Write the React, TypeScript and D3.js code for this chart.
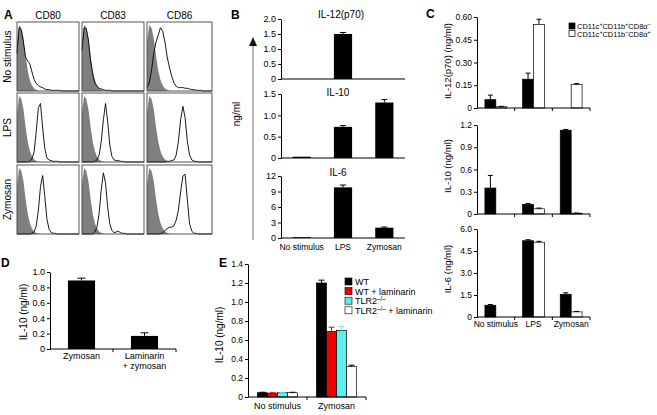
import React, { useRef, useEffect } from "react";
import * as d3 from "d3";

const FONT = "'Liberation Sans', Arial, Helvetica, sans-serif";

// ---- A: flow histograms, 30 bins each, fraction of max count
const markers = ["CD80", "CD83", "CD86"];
const stimuli = ["No stimulus", "LPS", "Zymosan"];
const isotype = [0.72, 0.97, 0.93, 0.78, 0.52, 0.3, 0.16, 0.08, 0.035, 0.015, 0.005, 0, 0, 0, 0, 0, 0, 0, 0, 0, 0, 0, 0, 0, 0, 0, 0, 0, 0, 0];
const noStimCD80 = [0.55, 0.93, 0.9, 0.72, 0.5, 0.44, 0.4, 0.28, 0.17, 0.11, 0.08, 0.06, 0.05, 0.03, 0.02, 0.02, 0.01, 0.01, 0.01, 0.01, 0.01, 0, 0, 0, 0, 0, 0, 0, 0, 0];
const noStimCD83 = [0.6, 0.93, 0.92, 0.75, 0.45, 0.25, 0.12, 0.07, 0.04, 0.03, 0.02, 0.01, 0.01, 0.01, 0, 0, 0, 0, 0, 0, 0, 0, 0, 0, 0, 0, 0, 0, 0, 0];
const noStimCD86 = [0.05, 0.12, 0.3, 0.55, 0.72, 0.82, 0.93, 0.88, 0.72, 0.5, 0.35, 0.22, 0.12, 0.07, 0.05, 0.05, 0.05, 0.04, 0.04, 0.03, 0.02, 0.02, 0.01, 0.01, 0.01, 0, 0, 0, 0, 0];
const lpsCD80 = [0, 0, 0, 0, 0, 0, 0.01, 0.05, 0.15, 0.45, 0.8, 0.86, 0.5, 0.2, 0.06, 0.03, 0.02, 0.01, 0.01, 0.01, 0, 0, 0, 0, 0, 0, 0, 0, 0, 0];
const lpsCD83 = [0, 0, 0, 0, 0, 0, 0.01, 0.03, 0.1, 0.3, 0.62, 0.86, 0.6, 0.25, 0.08, 0.03, 0.02, 0.02, 0.01, 0.01, 0, 0, 0, 0, 0, 0, 0, 0, 0, 0];
const lpsCD86 = [0, 0, 0, 0, 0, 0, 0, 0, 0, 0.01, 0.01, 0.02, 0.03, 0.1, 0.3, 0.62, 0.82, 0.65, 0.3, 0.1, 0.03, 0.01, 0.01, 0, 0, 0, 0, 0, 0, 0];
const zymCD80 = [0, 0, 0, 0, 0, 0, 0, 0.01, 0.03, 0.12, 0.35, 0.7, 0.86, 0.55, 0.22, 0.07, 0.02, 0.01, 0.01, 0, 0, 0, 0, 0, 0, 0, 0, 0, 0, 0];
const zymCD83 = [0, 0, 0, 0, 0, 0, 0.03, 0.1, 0.3, 0.65, 0.9, 0.75, 0.4, 0.15, 0.05, 0.02, 0.03, 0.04, 0.02, 0.01, 0.01, 0, 0, 0, 0, 0, 0, 0, 0, 0];
const zymCD86 = [0, 0, 0, 0, 0, 0, 0, 0.02, 0.05, 0.08, 0.1, 0.1, 0.12, 0.2, 0.35, 0.62, 0.85, 0.88, 0.5, 0.15, 0.04, 0.01, 0.01, 0, 0, 0, 0, 0, 0, 0];
const histRows = [
  [noStimCD80, noStimCD83, noStimCD86],
  [lpsCD80, lpsCD83, lpsCD86],
  [zymCD80, zymCD83, zymCD86],
];

// ---- B: cytokines (ng/ml)
const cytoCats = ["No stimulus", "LPS", "Zymosan"];
const bIL12 = [0, 1.5, 0];
const bIL12Err = [0, 0.05, 0];
const bIL10 = [0.03, 0.73, 1.3];
const bIL10Err = [0, 0.03, 0.07];
const bIL6 = [0.15, 9.8, 2.0];
const bIL6Err = [0, 0.45, 0.12];

// ---- C: DC subsets
const cSeries = ["CD11c+CD11b+CD8a-", "CD11c+CD11b-CD8a+"];
const cIL12Pos = [0.055, 0.19, 0];
const cIL12PosErr = [0.03, 0.04, 0];
const cIL12Neg = [0.008, 0.55, 0.155];
const cIL12NegErr = [0.003, 0.035, 0.006];
const cIL10Pos = [0.35, 0.13, 1.13];
const cIL10PosErr = [0.17, 0.012, 0.01];
const cIL10Neg = [0, 0.07, 0.01];
const cIL10NegErr = [0, 0.01, 0.003];
const cIL6Pos = [0.8, 5.2, 1.55];
const cIL6PosErr = [0.05, 0.07, 0.1];
const cIL6Neg = [0, 5.1, 0.35];
const cIL6NegErr = [0, 0.06, 0.03];

// ---- D
const dCats = ["Zymosan", "Laminarin"];
const dIL10 = [0.89, 0.17];
const dIL10Err = [0.03, 0.04];

// ---- E
const eCats = ["No stimulus", "Zymosan"];
const eWT = [0.045, 1.2];
const eWTErr = [0.005, 0.03];
const eWTLam = [0.04, 0.69];
const eWTLamErr = [0.005, 0.045];
const eTLR2 = [0.045, 0.7];
const eTLR2Err = [0.005, 0.04];
const eTLR2Lam = [0.045, 0.32];
const eTLR2LamErr = [0.005, 0.015];

type Series = { vals: number[]; errs: number[]; fill: string; stroke: string; errColor: string };

function barChart(svg: any, o: any) {
  const x0 = d3.scaleBand<string>().domain(o.cats).range(o.x).paddingInner(o.pi).paddingOuter(o.po);
  const x1 = d3.scaleBand<number>().domain(d3.range(o.series.length)).range([0, x0.bandwidth()]);
  const y = d3.scaleLinear().domain([0, o.max]).range(o.y);
  const g = svg.append("g");

  o.series.forEach((s: Series, si: number) => {
    const items = s.vals.map((v, ci) => ({ v, e: s.errs[ci], c: o.cats[ci] })).filter((d) => d.v > 0);
    g.selectAll(null)
      .data(items)
      .join("rect")
      .attr("x", (d: any) => x0(d.c)! + x1(si)!)
      .attr("y", (d: any) => y(d.v))
      .attr("width", x1.bandwidth())
      .attr("height", (d: any) => y(0) - y(d.v))
      .attr("fill", s.fill)
      .attr("stroke", s.stroke)
      .attr("stroke-width", s.stroke === "none" ? 0 : 0.7);
    const errs = items.filter((d) => d.e > 0);
    const cx = (d: any) => x0(d.c)! + x1(si)! + x1.bandwidth() / 2;
    g.selectAll(null)
      .data(errs)
      .join("line")
      .attr("x1", cx)
      .attr("x2", cx)
      .attr("y1", (d: any) => y(d.v))
      .attr("y2", (d: any) => y(d.v + d.e))
      .attr("stroke", s.errColor)
      .attr("stroke-width", 1);
    g.selectAll(null)
      .data(errs)
      .join("line")
      .attr("x1", (d: any) => cx(d) - o.cap / 2)
      .attr("x2", (d: any) => cx(d) + o.cap / 2)
      .attr("y1", (d: any) => y(d.v + d.e))
      .attr("y2", (d: any) => y(d.v + d.e))
      .attr("stroke", s.errColor)
      .attr("stroke-width", 1);
  });

  const ax = d3
    .axisLeft(y)
    .tickValues(o.ticks)
    .tickSize(3)
    .tickSizeOuter(0)
    .tickPadding(2)
    .tickFormat((v: any) => (v === 0 ? "0" : (+v).toFixed(o.digits)));
  const a = g.append("g").attr("transform", `translate(${o.x[0]},0)`).call(ax);
  a.attr("font-family", FONT).attr("font-size", o.fs || 9);
  a.select(".domain").attr("stroke", "#000");
  a.selectAll("line").attr("stroke", "#000");
  a.selectAll("text").attr("fill", "#000");

  g.append("line")
    .attr("x1", o.x[0]).attr("x2", o.x[1])
    .attr("y1", o.y[0]).attr("y2", o.y[0])
    .attr("stroke", "#000");
  if (o.catTicks) {
    d3.range(1, o.cats.length + 1).forEach((i) => {
      const tx = o.x[0] + i * x0.step();
      g.append("line").attr("x1", tx).attr("x2", tx).attr("y1", o.y[0]).attr("y2", o.y[0] + 3).attr("stroke", "#000");
    });
  }
  return { x0, y, g };
}

function supText(parent: any, x: number, y: number, parts: [string, boolean][], fs: number, anchor = "start") {
  const t = parent.append("text").attr("x", x).attr("y", y).attr("font-size", fs).attr("text-anchor", anchor).attr("font-family", FONT);
  let up = false;
  parts.forEach(([s, sup]) => {
    const ts = t.append("tspan").text(s);
    if (sup && !up) { ts.attr("dy", -fs * 0.35).attr("font-size", fs * 0.7); up = true; }
    else if (sup) ts.attr("font-size", fs * 0.7);
    else if (up) { ts.attr("dy", fs * 0.35); up = false; }
  });
  return t;
}

function vLabel(svg: any, x: number, y: number, s: string, fs = 10) {
  svg.append("text")
    .attr("transform", `translate(${x},${y}) rotate(-90)`)
    .attr("text-anchor", "middle")
    .attr("font-size", fs)
    .text(s);
}

function panelLetter(svg: any, x: number, y: number, s: string) {
  svg.append("text").attr("x", x).attr("y", y).attr("font-size", 12).attr("font-weight", "bold").text(s);
}

function catLabels(g: any, x0: any, cats: string[], y: number, fs = 9) {
  g.selectAll(null)
    .data(cats)
    .join("text")
    .attr("x", (d: string) => x0(d) + x0.bandwidth() / 2)
    .attr("y", y)
    .attr("text-anchor", "middle")
    .attr("font-size", fs)
    .text((d: string) => d);
}

function App() {
  const svgRef = useRef<SVGSVGElement>(null);

  useEffect(() => {
    const svg = d3.select(svgRef.current);
    svg.selectAll("*").remove();
    svg.attr("font-family", FONT);

    // ---------- A
    panelLetter(svg, 4, 19, "A");
    const colX = [17, 82, 147];
    const colW = [62, 62, 65];
    const rowY = [22, 93, 165];
    const rowH = 69;
    markers.forEach((m, ci) => {
      svg.append("text").attr("x", colX[ci] + colW[ci] / 2).attr("y", 19).attr("text-anchor", "middle").attr("font-size", 10).text(m);
    });
    stimuli.forEach((s, ri) => vLabel(svg, 11, rowY[ri] + rowH / 2, s, 10));
    histRows.forEach((row, ri) => {
      row.forEach((hist, ci) => {
        const x = colX[ci], w = colW[ci], y0 = rowY[ri];
        const hx = d3.scaleLinear().domain([0, hist.length - 1]).range([x, x + w]);
        const hy = d3.scaleLinear().domain([0, 1]).range([y0 + rowH, y0 + 1]);
        const area = d3.area<number>().x((_, i) => hx(i)).y0(y0 + rowH).y1((d) => hy(d));
        const line = d3.line<number>().x((_, i) => hx(i)).y((d) => hy(d));
        svg.append("path").attr("d", area(isotype)).attr("fill", "#7f7f7f");
        svg.append("path").attr("d", line(hist)).attr("fill", "none").attr("stroke", "#000").attr("stroke-width", 0.9);
        svg.append("rect").attr("x", x).attr("y", y0).attr("width", w).attr("height", rowH)
          .attr("fill", "none").attr("stroke", "#444").attr("stroke-width", 0.9);
      });
    });

    // ---------- B
    panelLetter(svg, 231, 19, "B");
    const bBase = { cats: cytoCats, x: [281, 405], pi: 0.56, po: 0.28, catTicks: false, cap: 6 };
    const blk = (vals: number[], errs: number[]): Series => ({ vals, errs, fill: "#000", stroke: "none", errColor: "#000" });
    barChart(svg, { ...bBase, series: [blk(bIL12, bIL12Err)], y: [79, 19], max: 2.0, ticks: [0, 0.5, 1, 1.5, 2], digits: 1 });
    barChart(svg, { ...bBase, series: [blk(bIL10, bIL10Err)], y: [158, 94], max: 1.5, ticks: [0, 0.5, 1, 1.5], digits: 1 });
    const b3 = barChart(svg, { ...bBase, series: [blk(bIL6, bIL6Err)], y: [238, 176], max: 12, ticks: [0, 3, 6, 9, 12], digits: 0 });
    catLabels(b3.g, b3.x0, cytoCats, 250, 8.5);
    svg.append("text").attr("x", 341).attr("y", 18).attr("text-anchor", "middle").attr("font-size", 10).text("IL-12(p70)");
    svg.append("text").attr("x", 338).attr("y", 96).attr("text-anchor", "middle").attr("font-size", 10).text("IL-10");
    svg.append("text").attr("x", 338).attr("y", 176).attr("text-anchor", "middle").attr("font-size", 10).text("IL-6");
    svg.append("line").attr("x1", 253).attr("x2", 253).attr("y1", 240).attr("y2", 44).attr("stroke", "#888").attr("stroke-width", 1.2);
    svg.append("path").attr("d", "M253,37 L249,46 L257,46 Z").attr("fill", "#111");
    vLabel(svg, 240, 114, "ng/ml", 10);

    // ---------- C
    panelLetter(svg, 426, 18, "C");
    const cBase = { cats: cytoCats, x: [477, 590], pi: 0.42, po: 0.21, catTicks: true, cap: 5, fs: 8.5 };
    const cPair = (p: number[], pe: number[], n: number[], ne: number[]): Series[] => [
      { vals: p, errs: pe, fill: "#000", stroke: "#000", errColor: "#000" },
      { vals: n, errs: ne, fill: "#fff", stroke: "#000", errColor: "#000" },
    ];
    barChart(svg, { ...cBase, series: cPair(cIL12Pos, cIL12PosErr, cIL12Neg, cIL12NegErr), y: [108, 17], max: 0.6, ticks: [0, 0.15, 0.3, 0.45, 0.6], digits: 2 });
    barChart(svg, { ...cBase, series: cPair(cIL10Pos, cIL10PosErr, cIL10Neg, cIL10NegErr), y: [214, 125], max: 1.2, ticks: [0, 0.3, 0.6, 0.9, 1.2], digits: 1 });
    const c3 = barChart(svg, { ...cBase, series: cPair(cIL6Pos, cIL6PosErr, cIL6Neg, cIL6NegErr), y: [317, 229], max: 6, ticks: [0, 1.5, 3, 4.5, 6], digits: 1 });
    catLabels(c3.g, c3.x0, cytoCats, 327, 8.5);
    vLabel(svg, 451, 61, "IL-12(p70) (ng/ml)", 9.5);
    vLabel(svg, 451, 166, "IL-10 (ng/ml)", 9.5);
    vLabel(svg, 451, 269, "IL-6 (ng/ml)", 9.5);
    // legend
    const lg = svg.append("g");
    cSeries.forEach((s, i) => {
      const yy = 23 + i * 7.5;
      lg.append("rect").attr("x", 569).attr("y", yy).attr("width", 6).attr("height", 6)
        .attr("fill", i === 0 ? "#000" : "#fff").attr("stroke", "#000").attr("stroke-width", 0.7);
      const sgn = s.match(/[+-]/g) || [];
      supText(lg, 577, yy + 6, [
        ["CD11c", false], [sgn[0] === "+" ? "+" : "–", true],
        ["CD11b", false], [sgn[1] === "+" ? "+" : "–", true],
        ["CD8α", false], [sgn[2] === "+" ? "+" : "–", true],
      ], 7.5);
    });

    // ---------- D
    panelLetter(svg, 1, 267, "D");
    const dch = barChart(svg, {
      cats: dCats, x: [50, 176], pi: 0.57, po: 0.285, catTicks: true, cap: 8,
      series: [blk(dIL10, dIL10Err)], y: [349, 272], max: 1.0, ticks: [0, 0.2, 0.4, 0.6, 0.8, 1.0], digits: 1,
    });
    catLabels(dch.g, dch.x0, dCats, 359, 9);
    svg.append("text").attr("x", dch.x0("Laminarin")! + dch.x0.bandwidth() / 2).attr("y", 369)
      .attr("text-anchor", "middle").attr("font-size", 9).text("+ zymosan");
    vLabel(svg, 27, 312, "IL-10 (ng/ml)", 10);

    // ---------- E
    panelLetter(svg, 219, 267, "E");
    const eSeries: Series[] = [
      { vals: eWT, errs: eWTErr, fill: "#000", stroke: "#000", errColor: "#000" },
      { vals: eWTLam, errs: eWTLamErr, fill: "#f00000", stroke: "#000", errColor: "#f00000" },
      { vals: eTLR2, errs: eTLR2Err, fill: "#5cf0ec", stroke: "#000", errColor: "#5cf0ec" },
      { vals: eTLR2Lam, errs: eTLR2LamErr, fill: "#fff", stroke: "#000", errColor: "#000" },
    ];
    const ech = barChart(svg, {
      cats: eCats, x: [248, 366], pi: 0.32, po: 0.16, catTicks: true, cap: 6,
      series: eSeries, y: [397, 264], max: 1.4, ticks: [0, 0.2, 0.4, 0.6, 0.8, 1.0, 1.2, 1.4], digits: 1, fs: 8.5,
    });
    catLabels(ech.g, ech.x0, eCats, 409, 9);
    vLabel(svg, 223, 335, "IL-10 (ng/ml)", 10);
    const eNames: [string, boolean][][] = [
      [["WT", false]],
      [["WT + laminarin", false]],
      [["TLR2", false], ["–/–", true]],
      [["TLR2", false], ["–/–", true], [" + laminarin", false]],
    ];
    eSeries.forEach((s, i) => {
      const yy = 278 + i * 9.6;
      svg.append("rect").attr("x", 345).attr("y", yy).attr("width", 7).attr("height", 7)
        .attr("fill", s.fill).attr("stroke", "#000").attr("stroke-width", 0.6);
      supText(svg, 355, yy + 7, eNames[i], 9);
    });
  }, []);

  return (
    <svg
      ref={svgRef}
      width={657}
      height={415}
      style={{ position: "absolute", left: 0, top: 0, background: "#fff" }}
    />
  );
}

export default App;
